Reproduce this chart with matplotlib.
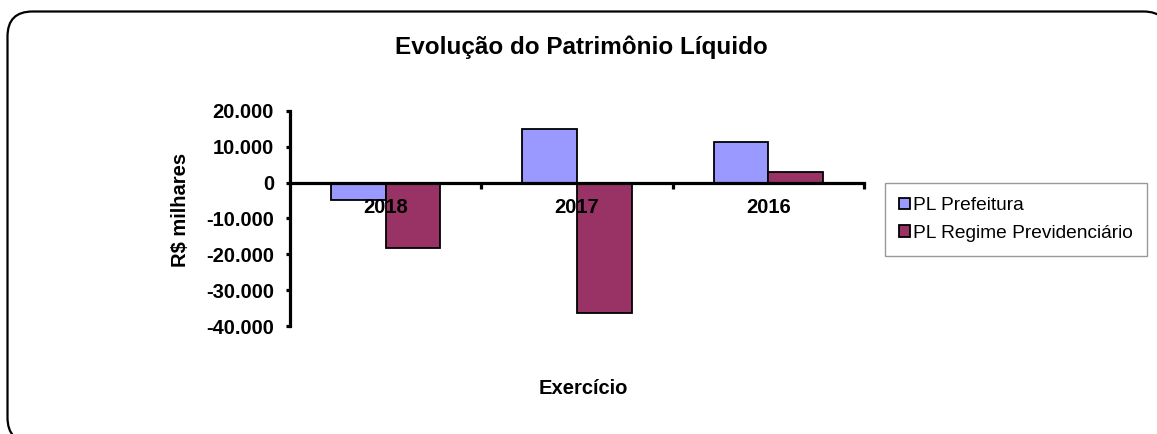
import matplotlib
matplotlib.use('Agg')
import matplotlib.pyplot as plt
from matplotlib.patches import FancyBboxPatch
from matplotlib.ticker import FuncFormatter, FixedLocator
import numpy as np

plt.rcParams['font.family'] = ['Liberation Sans', 'DejaVu Sans']

# dados (R$ milhares)
anos = ['2018', '2017', '2016']
pl_prefeitura = [-4700, 14900, 11400]
pl_previdencia = [-18350, -36500, 2900]
series_nomes = ['PL Prefeitura', 'PL Regime Previdenciário']
yticks = [20000, 10000, 0, -10000, -20000, -30000, -40000]

W, H = 1157, 434
fig = plt.figure(figsize=(W / 100, H / 100), dpi=100, facecolor='white')

# moldura arredondada em coordenadas de pixel
bg = fig.add_axes([0, 0, 1, 1])
bg.set_xlim(0, W)
bg.set_ylim(H, 0)
bg.axis('off')
bg.add_patch(FancyBboxPatch((7.5, 11.5), 1161, 431,
                            boxstyle='round,pad=0,rounding_size=25',
                            facecolor='white', edgecolor='black', linewidth=1.6))

ax = fig.add_axes([290 / W, 1 - 326 / H, (864 - 290) / W, 215 / H])
ax.set_facecolor('none')
ax.set_axisbelow(False)  # rótulos por cima das barras, como no Excel

x = np.arange(len(anos))
largura = 1 / 3.5
ax.bar(x - largura / 2, pl_prefeitura, largura, color='#9999FF',
       edgecolor='black', linewidth=1.3, label=series_nomes[0], zorder=2)
ax.bar(x + largura / 2, pl_previdencia, largura, color='#993366',
       edgecolor='black', linewidth=1.3, label=series_nomes[1], zorder=2)

ax.set_xlim(-0.5, len(anos) - 0.5)
ax.set_ylim(-40000, 20000)

# eixos
for s in ['top', 'right']:
    ax.spines[s].set_visible(False)
ax.spines['bottom'].set_position(('data', 0))
ax.spines['bottom'].set_linewidth(2.3)
ax.spines['left'].set_linewidth(2.3)

ax.set_yticks(yticks)
ax.yaxis.set_major_formatter(FuncFormatter(
    lambda v, p: f'{int(v):,}'.replace(',', '.')))
ax.tick_params(axis='y', direction='out', length=3, width=2.3, pad=8.5,
               labelsize=14.5)

ax.set_xticks(x)
ax.set_xticklabels(anos)
ax.xaxis.set_minor_locator(FixedLocator([0.5, 1.5, 2.5]))
ax.tick_params(axis='x', which='major', length=0, pad=11, labelsize=14.5)
ax.tick_params(axis='x', which='minor', direction='out', length=4, width=2.3)

for lbl in ax.get_xticklabels() + ax.get_yticklabels():
    lbl.set_fontweight('bold')

fig.text(581 / W, 1 - 47.5 / H, 'Evolução do Patrimônio Líquido',
         ha='center', va='center', fontsize=17.5, fontweight='bold')
fig.text(583 / W, 1 - 389 / H, 'Exercício', ha='center', va='center',
         fontsize=14.5, fontweight='bold')
fig.text(180 / W, 1 - 210 / H, 'R$ milhares', ha='center', va='center',
         rotation=90, fontsize=14.5, fontweight='bold')

leg = fig.legend(loc='upper left', bbox_to_anchor=(885 / W, 1 - 183 / H),
                 borderaxespad=0, fancybox=False, edgecolor='#808080',
                 fontsize=13.8, handlelength=0.55, handleheight=0.55,
                 handletextpad=0.15, labelspacing=0.55, borderpad=0.75)
leg.get_frame().set_linewidth(1.0)

fig.savefig('out.png', dpi=100, facecolor='white')
